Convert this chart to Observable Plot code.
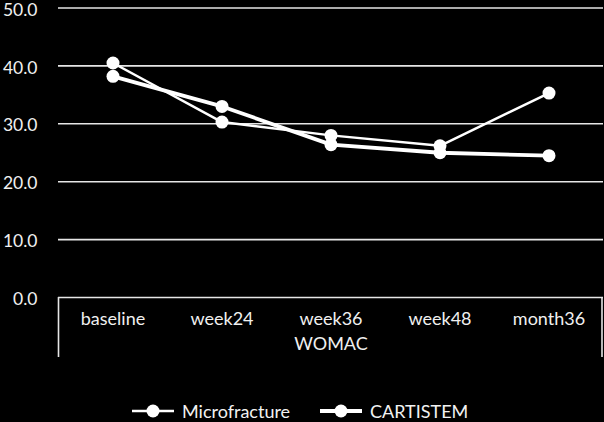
<!DOCTYPE html>
<html>
<head>
<meta charset="utf-8">
<script src="https://cdn.jsdelivr.net/npm/d3@7"></script>
<script src="https://cdn.jsdelivr.net/npm/@observablehq/plot@0.6"></script>
<style>
  html, body { margin: 0; padding: 0; background: #000; width: 604px; height: 422px; overflow: hidden; }
  #chart svg { display: block; }
  #legend { position: relative; height: 42px; font-family: Lato, sans-serif; font-size: 18px; color: #f2f2f2; }
  .item { position: absolute; top: 20px; display: flex; align-items: center; }
  .item svg { display: block; margin-right: 8px; }
</style>
</head>
<body>
<div id="chart"></div>
<div id="legend"></div>
<script>
const categories = ["baseline", "week24", "week36", "week48", "month36"];
const seriesNames = ["Microfracture", "CARTISTEM"];
const microfracture = [40.5, 30.3, 28.0, 26.2, 35.3];
const cartistem = [38.2, 33.0, 26.4, 25.0, 24.5];
const yTicks = [0, 10, 20, 30, 40, 50];
const axisTitle = "WOMAC";

const strokeWidths = {Microfracture: 2.5, CARTISTEM: 3.8};
const data = [];
categories.forEach((c, i) => {
  data.push({cat: c, value: microfracture[i], series: "Microfracture"});
  data.push({cat: c, value: cartistem[i], series: "CARTISTEM"});
});

const fg = "#f0f0f0";
const plot = Plot.plot({
  width: 604,
  height: 380,
  marginLeft: 58,
  marginRight: 1,
  marginTop: 7.5,
  marginBottom: 83,
  style: {background: "#000", color: fg, fontFamily: "Lato, sans-serif", fontSize: "18px", overflow: "visible"},
  x: {type: "band", domain: categories, padding: 0, label: null},
  y: {domain: [0, 50], label: null},
  marks: [
    Plot.ruleY(yTicks, {stroke: "#e6e6e6", strokeWidth: 1.6}),
    Plot.axisY(yTicks, {tickSize: 0, tickPadding: 21, tickFormat: d => d.toFixed(1), fontSize: 17.5, fill: fg, label: null, dy: 2}),
    Plot.axisX({tickSize: 0, tickPadding: 15, fontSize: 18, fill: fg, label: null}),
    Plot.text([axisTitle], {frameAnchor: "bottom", dy: 52, text: d => d, fontSize: 18, fill: fg}),
    ...seriesNames.map(s => Plot.line(data.filter(d => d.series === s), {x: "cat", y: "value", stroke: "#fff", strokeWidth: strokeWidths[s]})),
    Plot.dot(data, {x: "cat", y: "value", r: 6.5, fill: "#fff", stroke: "none"})
  ]
});

// outer box lines of the category axis, from the x scale range
const xs = plot.scale("x");
const ys = plot.scale("y");
const y0 = ys.apply(0);
const svg = d3.select(plot);
[xs.range[0] + 0.5, xs.range[1] - 1].forEach(x => {
  svg.append("line").attr("x1", x).attr("x2", x).attr("y1", y0).attr("y2", y0 + 60)
    .attr("stroke", "#e6e6e6").attr("stroke-width", 1.6);
});
document.getElementById("chart").appendChild(plot);

// legend
const legend = document.getElementById("legend");
const lefts = [132, 320];
seriesNames.forEach((s, i) => {
  const div = document.createElement("div");
  div.className = "item";
  div.style.left = lefts[i] + "px";
  div.innerHTML = `<svg width="42" height="14"><line x1="0" x2="42" y1="7" y2="7" stroke="#fff" stroke-width="${strokeWidths[s]}"/><circle cx="21" cy="7" r="6.5" fill="#fff"/></svg><span>${s}</span>`;
  legend.appendChild(div);
});
</script>
</body>
</html>
